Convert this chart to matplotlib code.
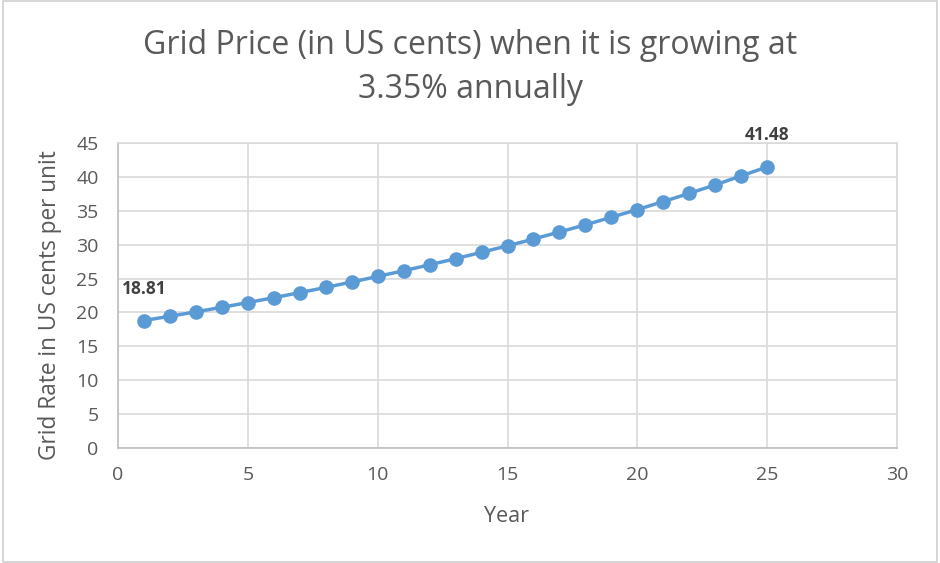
import matplotlib.pyplot as plt
from matplotlib.patches import Rectangle

# Grid price values (US cents per unit)
years = list(range(1, 26))
price = [18.81, 19.44, 20.09, 20.76, 21.46, 22.18, 22.92, 23.69, 24.49, 25.31,
         26.15, 27.03, 27.93, 28.87, 29.83, 30.83, 31.87, 32.93, 34.04, 35.18,
         36.36, 37.57, 38.83, 40.14, 41.48]
x_ticks = [0, 5, 10, 15, 20, 25, 30]
y_ticks = [0, 5, 10, 15, 20, 25, 30, 35, 40, 45]

plt.rcParams['font.family'] = ['Open Sans', 'DejaVu Sans']
text_col = '#595959'
grid_col = '#D9D9D9'
blue = '#5B9BD5'

fig = plt.figure(figsize=(9.4, 5.63), dpi=100)
ax = fig.add_axes([118 / 940, 1 - 448 / 563, (897 - 118) / 940, (448 - 143) / 563])

# outer chart border
fig.patches.append(Rectangle((3 / 940, 1 / 563), 934 / 940, 561 / 563, transform=fig.transFigure,
                             fill=False, edgecolor='#D0D0D0', linewidth=1.2))

ax.plot(years, price, color=blue, linewidth=2.5, marker='o', markersize=9.5,
        markerfacecolor=blue, markeredgecolor=blue, zorder=3)

ax.set_xlim(0, 30)
ax.set_ylim(0, 45)
ax.set_xticks(x_ticks)
ax.set_yticks(y_ticks)
ax.grid(True, color=grid_col, linewidth=1.2)
ax.set_axisbelow(True)
for s in ax.spines.values():
    s.set_color(grid_col)
    s.set_linewidth(1.2)
ax.spines['bottom'].set_color('#BFBFBF')
ax.spines['left'].set_color('#BFBFBF')
ax.tick_params(axis='y', length=0, labelsize=14, labelcolor=text_col, pad=14)
ax.tick_params(axis='x', length=0, labelsize=14, labelcolor=text_col, pad=13)

# data labels for first and last points
ax.annotate(f'{price[0]:.2f}', (years[0], price[0]), xytext=(0, 23), textcoords='offset points',
            ha='center', va='center', fontsize=12.5, fontweight='bold', color='#404040')
ax.annotate(f'{price[-1]:.2f}', (years[-1], price[-1]), xytext=(0, 23), textcoords='offset points',
            ha='center', va='center', fontsize=12.5, fontweight='bold', color='#404040')

fig.text(507 / 940, 1 - 516 / 563, 'Year', ha='center', va='center', fontsize=15.5, color=text_col)
fig.text(50 / 940, 1 - 305 / 563, 'Grid Rate in US cents per unit', ha='center', va='center',
         rotation=90, fontsize=16.3, color=text_col)

fig.text(0.5, 1 - 45 / 563, 'Grid Price (in US cents) when it is growing at', ha='center', va='center',
         fontsize=23, color=text_col)
fig.text(0.5, 1 - 90 / 563, '3.35% annually', ha='center', va='center', fontsize=23, color=text_col)

fig.savefig('out.png', dpi=100)
